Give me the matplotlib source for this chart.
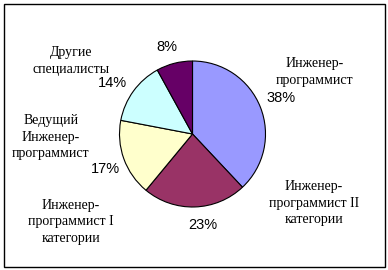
import matplotlib
matplotlib.use("Agg")
import matplotlib.pyplot as plt
from matplotlib.patches import Rectangle

# slices, clockwise from 12 o'clock
categories = [
    "Инженер-\nпрограммист",
    "Инженер-\nпрограммист II\nкатегории",
    "Инженер-\nпрограммист I\nкатегории",
    "Ведущий\nИнженер-\nпрограммист",
    "Другие\nспециалисты",
]
shares = [38, 23, 17, 14, 8]
colors = ["#9999FF", "#993366", "#FFFFCC", "#CCFFFF", "#660066"]

# label positions in pixels (x, y from top)
name_pos = [(315, 72), (314, 203), (71, 222), (51, 137), (71, 61)]
pct_pos = [(281, 98), (203, 225), (105, 169), (112, 83), (167, 47)]

W, H = 388, 270
fig = plt.figure(figsize=(W / 100, H / 100), dpi=100)
ax = fig.add_axes([0, 0, 1, 1])
ax.set_xlim(0, W)
ax.set_ylim(0, H)
ax.axis("off")

ax.pie(shares, colors=colors, startangle=90, counterclock=False,
       center=(192.5, H - 134), radius=73, frame=True,
       wedgeprops=dict(edgecolor="black", linewidth=0.8))
ax.set_xlim(0, W)
ax.set_ylim(0, H)
ax.axis("off")

for name, (x, y) in zip(categories, name_pos):
    ax.text(x, H - y, name, ha="center", va="center", family="Liberation Serif",
            fontsize=10, linespacing=1.35)
for s, (x, y) in zip(shares, pct_pos):
    ax.text(x, H - y, f"{s}%", ha="center", va="center", family="Liberation Sans",
            fontsize=10.5)

ax.add_patch(Rectangle((3.5, 3.5), 381, 263, fill=False, edgecolor="black", linewidth=1))

fig.savefig("out.png", dpi=100)
